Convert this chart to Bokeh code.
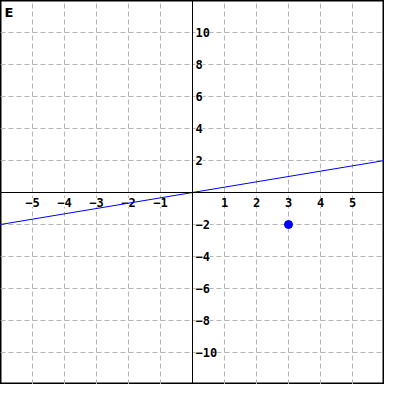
from bokeh.plotting import figure
from bokeh.models import FixedTicker, Span, ColumnDataSource, Label, Grid
from bokeh.core.properties import value
from bokeh.embed import file_html
from bokeh.resources import INLINE

# data
x_ticks = [-5, -4, -3, -2, -1, 1, 2, 3, 4, 5]
y_ticks = [-10, -8, -6, -4, -2, 2, 4, 6, 8, 10]
x_grid = [-6, -5, -4, -3, -2, -1, 0, 1, 2, 3, 4, 5, 6]
y_grid = [-12, -10, -8, -6, -4, -2, 0, 2, 4, 6, 8, 10, 12]
line_x = [-6, 6]
line_y = [-2, 2]
point_x = [3]
point_y = [-2]
panel_label = "E"

W = 384
p = figure(width=W, height=W, x_range=(-6, 6), y_range=(-12, 12),
           output_backend="svg", toolbar_location=None, min_border=0,
           x_axis_type=None, y_axis_type=None)
p.outline_line_color = "black"
p.outline_line_width = 2
p.background_fill_color = "white"

grid_color = "#b4b4b4"
for dim, ticks in ((0, x_grid), (1, y_grid)):
    g = Grid(dimension=dim, ticker=FixedTicker(ticks=ticks),
             grid_line_color=grid_color, grid_line_dash="5 3", grid_line_width=1)
    p.add_layout(g)

p.add_layout(Span(location=0, dimension="width", line_color="black", line_width=1))
p.add_layout(Span(location=0, dimension="height", line_color="black", line_width=1))

font = value("DejaVu Sans Mono")
xsrc = ColumnDataSource(dict(x=x_ticks, y=[0] * len(x_ticks),
                             t=[str(v).replace("-", "\u2212") for v in x_ticks]))
p.text(x="x", y="y", text="t", source=xsrc, text_font=font, text_font_style="bold",
       text_font_size="12px", text_align="center", text_baseline="middle",
       y_offset=10, text_color="black", background_fill_color="white")
ysrc = ColumnDataSource(dict(x=[0] * len(y_ticks), y=y_ticks,
                             t=[str(v).replace("-", "\u2212") for v in y_ticks]))
p.text(x="x", y="y", text="t", source=ysrc, text_font=font, text_font_style="bold",
       text_font_size="12px", text_align="left", text_baseline="middle",
       x_offset=3, text_color="black", background_fill_color="white")

p.line(line_x, line_y, line_color="#0000ff", line_width=1)
p.scatter(point_x, point_y, size=8, fill_color="#0000ff", line_color="#0000ff")

p.add_layout(Label(x=4, y=W - 4, x_units="screen", y_units="screen", text=panel_label,
                   text_font="DejaVu Sans", text_font_style="bold", text_font_size="13px",
                   text_baseline="top", text_color="black"))

open("out.html", "w").write(file_html(p, INLINE))
